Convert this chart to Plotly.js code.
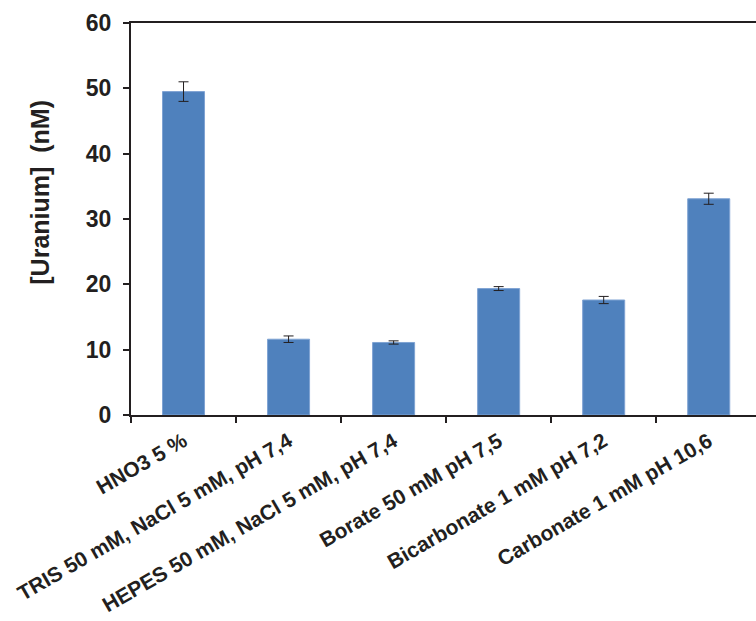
<!DOCTYPE html>
<html>
<head>
<meta charset="utf-8">
<script src="https://cdn.plot.ly/plotly-3.0.1.min.js"></script>
<style>
  html, body { margin: 0; padding: 0; background: #ffffff; }
  #chart { width: 756px; height: 621px; }
</style>
</head>
<body>
<div id="chart"></div>
<script>
const categories = [
  "HNO3 5 %",
  "TRIS 50 mM, NaCl 5 mM, pH 7,4",
  "HEPES 50 mM, NaCl 5 mM, pH 7,4",
  "Borate 50 mM pH 7,5",
  "Bicarbonate 1 mM pH 7,2",
  "Carbonate 1 mM pH 10,6"
];
const uranium = [49.5, 11.6, 11.1, 19.35, 17.6, 33.1];
const errors = [1.5, 0.5, 0.25, 0.3, 0.55, 0.85];
const yTicks = [0, 10, 20, 30, 40, 50, 60];
const yTitle = "[Uranium]  (nM)";

const ink = "#231f20";
const fontFam = "'Liberation Sans', Arial, Helvetica, sans-serif";

const trace = {
  type: "bar",
  x: categories,
  y: uranium,
  width: 0.4,
  marker: { color: "#4f81bd", line: { color: "#7fa3d3", width: 1 } },
  error_y: { type: "data", array: errors, visible: true, color: ink, thickness: 1, width: 5 }
};

const layout = {
  width: 756,
  height: 621,
  margin: { l: 131, r: 0, t: 23, b: 206 },
  paper_bgcolor: "#ffffff",
  plot_bgcolor: "#ffffff",
  showlegend: false,
  font: { family: fontFam, color: ink },
  xaxis: {
    type: "category",
    range: [-0.5, 5.45],
    showline: true,
    linecolor: ink,
    linewidth: 2,
    mirror: true,
    ticks: "outside",
    tickson: "boundaries",
    ticklen: 6,
    tickwidth: 2,
    tickcolor: ink,
    tickangle: -30,
    ticklabelstandoff: 4,
    tickfont: { family: fontFam, size: 21, color: ink, weight: "bold" },
    showgrid: false,
    zeroline: false,
    automargin: false
  },
  yaxis: {
    range: [0, 60],
    tickvals: yTicks,
    ticktext: yTicks.map(String),
    showline: true,
    linecolor: ink,
    linewidth: 2,
    ticks: "outside",
    ticklen: 6,
    tickwidth: 2,
    tickcolor: ink,
    ticklabelstandoff: 7,
    tickfont: { family: fontFam, size: 23, color: ink, weight: "bold" },
    showgrid: false,
    zeroline: false,
    automargin: false
  },
  annotations: [{
    text: yTitle,
    xref: "paper", yref: "paper",
    x: -0.146, y: 0.569,
    xanchor: "center", yanchor: "middle",
    textangle: -90,
    showarrow: false,
    font: { family: fontFam, size: 25, color: ink, weight: "bold" }
  }]
};

Plotly.newPlot("chart", [trace], layout, { displayModeBar: false, staticPlot: true });
</script>
</body>
</html>
